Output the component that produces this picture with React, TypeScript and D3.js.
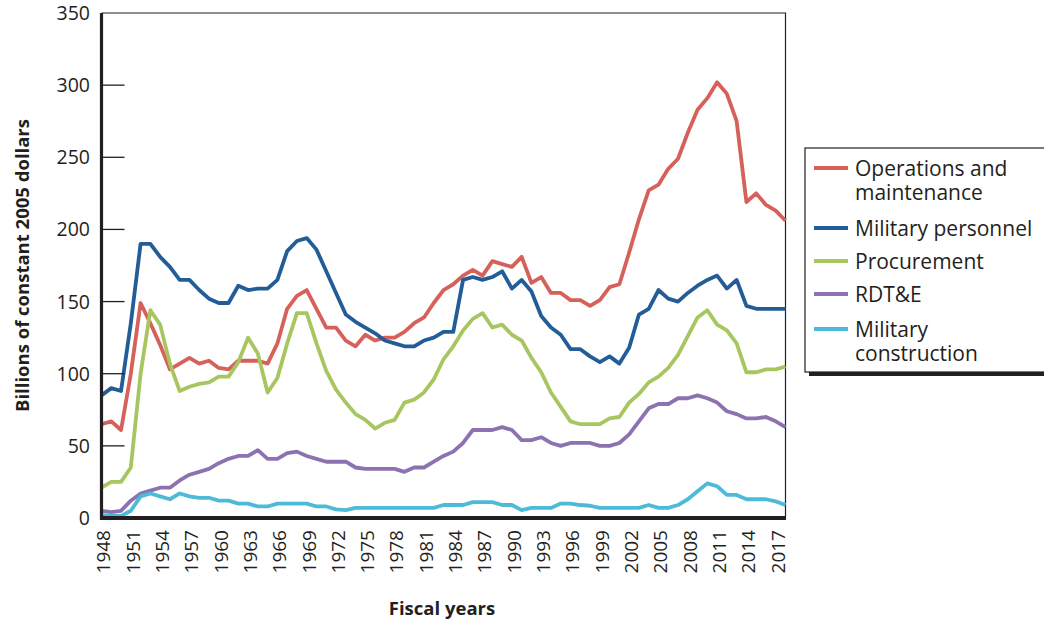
import * as d3 from 'd3'

// fiscal years 1948..2018, billions of constant 2005 dollars
const years = d3.range(1948, 2019)

const operations = [
  65, 67, 61, 100, 149, 135, 120, 103, 107, 111,
  107, 109, 104, 103, 109, 109, 109, 107, 121, 145,
  154, 158, 145, 132, 132, 123, 119, 127, 123, 125,
  125, 129, 135, 139, 149, 158, 162, 168, 172, 168,
  178, 176, 174, 181, 163, 167, 156, 156, 151, 151,
  147, 151, 160, 162, 184, 207, 227, 231, 242, 249,
  267, 283, 291, 302, 294, 275, 219, 225, 217, 213, 206,
]
const personnel = [
  85, 90, 88, 135, 190, 190, 181, 174, 165, 165,
  158, 152, 149, 149, 161, 158, 159, 159, 165, 185,
  192, 194, 186, 171, 156, 141, 136, 132, 128, 123,
  121, 119, 119, 123, 125, 129, 129, 165, 167, 165,
  167, 171, 159, 165, 157, 140, 132, 127, 117, 117,
  112, 108, 112, 107, 118, 141, 145, 158, 152, 150,
  156, 161, 165, 168, 159, 165, 147, 145, 145, 145, 145,
]
const procurement = [
  21, 25, 25, 35, 100, 144, 134, 107, 88, 91,
  93, 94, 98, 98, 108, 125, 114, 87, 97, 121,
  142, 142, 121, 102, 89, 80, 72, 68, 62, 66,
  68, 80, 82, 87, 96, 110, 119, 130, 138, 142,
  132, 134, 127, 123, 111, 101, 87, 77, 67, 65,
  65, 65, 69, 70, 80, 86, 94, 98, 104, 113,
  126, 139, 144, 134, 130, 121, 101, 101, 103, 103, 105,
]
const rdte = [
  5, 4, 5, 12, 17, 19, 21, 21, 26, 30,
  32, 34, 38, 41, 43, 43, 47, 41, 41, 45,
  46, 43, 41, 39, 39, 39, 35, 34, 34, 34,
  34, 32, 35, 35, 39, 43, 46, 52, 61, 61,
  61, 63, 61, 54, 54, 56, 52, 50, 52, 52,
  52, 50, 50, 52, 58, 67, 76, 79, 79, 83,
  83, 85, 83, 80, 74, 72, 69, 69, 70, 67, 63,
]
const construction = [
  2, 1.5, 1.5, 5, 15, 17, 15, 13, 17, 15,
  14, 14, 12, 12, 10, 10, 8, 8, 10, 10,
  10, 10, 8, 8, 6, 5.5, 7, 7, 7, 7,
  7, 7, 7, 7, 7, 9, 9, 9, 11, 11,
  11, 9, 9, 5.5, 7, 7, 7, 10, 10, 9,
  8.5, 7, 7, 7, 7, 7, 9, 7, 7, 9,
  13, 18.5, 24, 22, 16, 16, 13, 13, 13, 11.5, 9,
]

const seriesNames = ['Operations and maintenance', 'Military personnel', 'Procurement', 'RDT&E', 'Military construction']
const legendLines = [['Operations and', 'maintenance'], ['Military personnel'], ['Procurement'], ['RDT&E'], ['Military', 'construction']]
const seriesValues = [operations, personnel, procurement, rdte, construction]
const colors = ['#d6605a', '#235d97', '#a8c65f', '#8d72b1', '#4dbbd8']

const yTicks = [0, 50, 100, 150, 200, 250, 300, 350]
const xTickYears = d3.range(1948, 2018, 3)

const ink = '#231f20'
const font = '"Open Sans", "DejaVu Sans", sans-serif'

export default function App() {
  const width = 1044
  const height = 625
  const plot = { left: 101.5, right: 785.5, top: 13, bottom: 518 }

  const x = d3.scaleLinear().domain([1948, 2018]).range([plot.left, plot.right])
  const y = d3.scaleLinear().domain([0, 350]).range([plot.bottom, plot.top])

  const line = d3.line<number>()
    .x((_, i) => x(years[i]))
    .y(d => y(d))

  // legend rows: swatch centre y for each entry
  const legendY = [168, 228, 261, 294, 329]

  return (
    <svg width={width} height={height} style={{ position: 'absolute', left: 0, top: 0, background: '#fff' }}>
      {/* frame top/right */}
      <path d={`M${plot.left},${plot.top}H${plot.right}V${plot.bottom}`} fill="none" stroke={ink} strokeWidth={1.2} />

      {/* series */}
      {seriesValues.map((vals, i) => (
        <path key={seriesNames[i]} d={line(vals) || ''} fill="none" stroke={colors[i]} strokeWidth={3.8} strokeLinejoin="round" />
      ))}

      {/* y ticks inside */}
      {yTicks.filter(t => t > 0 && t < 350).map(t => (
        <line key={t} x1={plot.left} x2={plot.left + 23} y1={y(t)} y2={y(t)} stroke={ink} strokeWidth={1.3} />
      ))}

      {/* axes */}
      <line x1={plot.left} x2={plot.left} y1={plot.top} y2={plot.bottom + 2} stroke={ink} strokeWidth={3.2} />
      <line x1={plot.left - 1.5} x2={plot.right + 0.5} y1={plot.bottom} y2={plot.bottom} stroke={ink} strokeWidth={4} />

      {/* y labels */}
      {yTicks.map(t => (
        <text key={t} x={90} y={y(t)} dy="0.36em" textAnchor="end" fontFamily={font} fontSize={19.5} fill={ink}>{t}</text>
      ))}

      {/* x labels */}
      {xTickYears.map(yr => (
        <text key={yr} transform={`translate(${x(yr) + 2},530) rotate(-90)`} dy="0.36em" textAnchor="end"
          fontFamily={font} fontSize={19} fill={ink}>{yr}</text>
      ))}

      {/* axis titles */}
      <text transform={`translate(22,${(plot.top + plot.bottom) / 2}) rotate(-90)`} dy="0.36em" textAnchor="middle"
        fontFamily={font} fontSize={18.5} fontWeight="bold" fill={ink}>Billions of constant 2005 dollars</text>
      <text x={442} y={608} dy="0.36em" textAnchor="middle" fontFamily={font} fontSize={18.5} fontWeight="bold" fill={ink}>Fiscal years</text>

      {/* legend */}
      <rect x={809} y={152} width={260} height={224} fill={ink} />
      <rect x={805} y={148} width={260} height={224} fill="#fff" stroke={ink} strokeWidth={1.2} />
      {legendLines.map((lines, i) => (
        <g key={seriesNames[i]}>
          <line x1={814} x2={848} y1={legendY[i]} y2={legendY[i]} stroke={colors[i]} strokeWidth={3.8} />
          <text x={855} y={legendY[i]} fontFamily={font} fontSize={21} fill={ink}>
            {lines.map((l, j) => (
              <tspan key={l} x={855} dy={j === 0 ? '0.36em' : 24}>{l}</tspan>
            ))}
          </text>
        </g>
      ))}
    </svg>
  )
}
